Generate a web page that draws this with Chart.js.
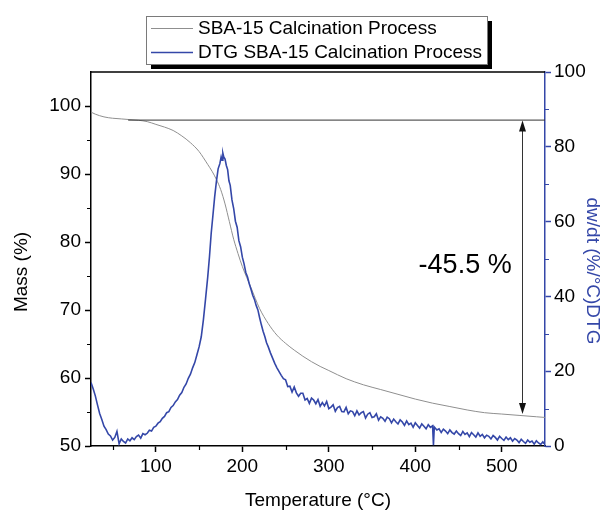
<!DOCTYPE html>
<html>
<head>
<meta charset="utf-8">
<script src="https://cdn.jsdelivr.net/npm/chart.js@4.4.1/dist/chart.umd.min.js"></script>
<style>
    html, body { margin: 0; padding: 0; background: #ffffff; }
    #chart-tga-container { width: 607px; height: 513px; }
</style>
</head>
<body>
<div id="chart-tga-container"><canvas id="chart-tga"></canvas></div>
<script>
// --- data ------------------------------------------------------------------
const massTemp  = [25, 30, 40, 50, 60, 70, 80, 90, 100, 110,
                   120, 130, 140, 150, 160, 165, 170, 175, 180, 185,
                   190, 195, 200, 205, 210, 215, 220, 230, 240, 250,
                   260, 270, 280, 290, 300, 320, 340, 360, 380, 400,
                   420, 440, 460, 480, 500, 520, 540, 550];
const massValue = [99.1, 98.8, 98.4, 98.2, 98.1, 98.0, 97.9, 97.7, 97.3, 96.9,
                   96.4, 95.6, 94.6, 93.3, 91.4, 90.4, 89.2, 87.7, 85.6, 83.0,
                   80.4, 78.3, 76.4, 74.8, 73.3, 71.7, 70.2, 68.0, 66.3, 65.1,
                   64.1, 63.2, 62.4, 61.7, 61.1, 59.9, 59.0, 58.3, 57.6, 56.9,
                   56.3, 55.8, 55.3, 54.9, 54.7, 54.5, 54.3, 54.2];

const dtgTemp  = [25, 27.5, 30, 32.5, 35, 37.5, 40, 42.5, 45, 47.5,
                  50, 52.5, 55, 57.5, 60, 62.5, 65, 67.5, 70, 72.5,
                  75, 77.5, 80, 82.5, 85, 87.5, 90, 92.5, 95, 97.5,
                  100, 102.5, 105, 107.5, 110, 112.5, 115, 117.5, 120, 122.5,
                  125, 127.5, 130, 132.5, 135, 137.5, 140, 142.5, 145, 147.5,
                  150, 152.5, 155, 157.5, 160, 162, 164, 166, 168, 170,
                  172, 174, 175.5, 176.5, 177.5, 178.5, 180, 181.5, 183, 184.5,
                  186, 188, 190, 192, 194, 196, 198, 200, 202, 204,
                  206, 208, 210, 212, 214, 216, 218, 220, 222, 224,
                  226, 228, 230, 232.5, 235, 237.5, 240, 242.5, 245, 247.5,
                  250, 252.5, 255, 257.5, 260, 262.5, 265, 267.5, 270, 272.5,
                  275, 277.5, 280, 282.5, 285, 287.5, 290, 292.5, 295, 297.5,
                  300, 302.5, 305, 307.5, 310, 312.5, 315, 317.5, 320, 322.5,
                  325, 327.5, 330, 332.5, 335, 337.5, 340, 342.5, 345, 347.5,
                  350, 352.5, 355, 357.5, 360, 362.5, 365, 367.5, 370, 372.5,
                  375, 377.5, 380, 382.5, 385, 387.5, 390, 392.5, 395, 397.5,
                  400, 402.5, 405, 407.5, 410, 412.5, 415, 417.5, 420, 421,
                  422, 425, 427.5, 430, 432.5, 435, 437.5, 440, 442.5, 445,
                  447.5, 450, 452.5, 455, 457.5, 460, 462.5, 465, 467.5, 470,
                  472.5, 475, 477.5, 480, 482.5, 485, 487.5, 490, 492.5, 495,
                  497.5, 500, 502.5, 505, 507.5, 510, 512.5, 515, 517.5, 520,
                  522.5, 525, 527.5, 530, 532.5, 535, 537.5, 540, 542.5, 545,
                  547.5, 549];
const dtgValue = [17.0, 15.3, 13.4, 11.0, 8.7, 7.1, 5.3, 4.4, 3.2, 2.7,
                  1.6, 2.3, 3.9, 0.6, 1.9, 1.2, 0.8, 1.9, 1.4, 2.2,
                  1.7, 2.5, 2.9, 2.1, 3.3, 3.0, 3.4, 4.2, 4.0, 5.0,
                  5.3, 6.1, 6.5, 7.4, 7.9, 8.9, 9.2, 10.3, 10.8, 11.8,
                  12.4, 13.6, 14.3, 15.7, 16.6, 18.1, 19.2, 20.9, 22.3, 24.4,
                  26.5, 29.2, 33.8, 39.4, 45.2, 50.6, 56.9, 61.7, 66.6, 70.7,
                  74.1, 75.5, 77.3, 76.4, 78.3, 77.3, 76.7, 75.0, 73.9, 70.9,
                  69.7, 65.8, 63.5, 60.1, 58.5, 54.9, 53.3, 50.5, 48.7, 46.4,
                  45.2, 43.4, 41.9, 40.3, 39.2, 37.6, 36.4, 34.3, 32.4, 30.7,
                  29.3, 27.6, 26.5, 24.9, 23.5, 22.1, 20.9, 19.9, 18.9, 18.0,
                  17.7, 15.9, 16.0, 14.4, 15.8, 14.2, 13.3, 14.1, 14.1, 12.3,
                  12.7, 11.4, 12.8, 12.3, 11.3, 12.4, 10.6, 11.6, 10.7, 11.9,
                  10.0, 10.4, 11.0, 9.3, 10.3, 10.6, 9.2, 9.1, 10.3, 8.6,
                  9.4, 9.2, 8.1, 9.4, 8.3, 8.9, 9.2, 7.5, 8.5, 8.9,
                  7.6, 7.8, 8.6, 6.9, 7.8, 7.4, 6.6, 7.7, 7.3, 6.2,
                  7.2, 6.5, 5.9, 7.0, 6.4, 5.5, 6.7, 5.7, 6.1, 5.0,
                  6.2, 5.5, 4.8, 5.9, 5.3, 4.6, 5.7, 5.0, 5.4, 0.2,
                  5.1, 4.3, 4.6, 3.6, 4.5, 4.0, 3.3, 4.3, 3.6, 3.2,
                  4.0, 3.3, 2.8, 3.9, 3.1, 3.5, 2.5, 3.6, 3.0, 2.4,
                  3.5, 2.6, 3.1, 2.2, 2.9, 2.6, 1.9, 2.8, 2.3, 1.6,
                  2.6, 2.0, 1.5, 2.4, 1.7, 2.2, 1.3, 2.0, 1.6, 0.9,
                  1.8, 1.2, 0.7, 1.6, 1.0, 1.3, 0.5, 1.4, 0.8, 0.4,
                  1.1, 0.6];

const tempTicks  = [100, 200, 300, 400, 500];
const tempMinor  = [50, 150, 250, 350, 450];
const massTicks  = [50, 60, 70, 80, 90, 100];
const massMinor  = [55, 65, 75, 85, 95];
const dtgTicks   = [0, 20, 40, 60, 80, 100];
const dtgMinor   = [10, 30, 50, 70, 90];

// mass-loss marker
const stepStart  = 68;
const stepLevel  = 98.0;
const arrowTemp  = 523;
const arrowEnd   = 54.7;
const stepLabel  = '-45.5 %';
const labelMass  = 76.5;

const FONT = '"Liberation Sans", Arial, sans-serif';
const BLUE = '#3447a8';
// -------------------------------------------------------------------------------------------
function pointsOf(xs, ys)
{
    return xs.map((t, i) => ({ x: t, y: ys[i] }));
}
// -------------------------------------------------------------------------------------------
const tgaDecor = {
    id: 'tgaDecor',
    afterDatasetsDraw(chart) {
        const { ctx, scales: { x, y } } = chart;
        const xs = x.getPixelForValue(stepStart);
        const xe = x.getPixelForValue(x.max);
        const ys = y.getPixelForValue(stepLevel);
        const ax = x.getPixelForValue(arrowTemp);
        const yb = y.getPixelForValue(arrowEnd);

        ctx.save();
        ctx.strokeStyle = '#333333';
        ctx.fillStyle = '#111111';
        ctx.lineWidth = 1;
        ctx.beginPath();
        ctx.moveTo(xs, ys + 0.5);
        ctx.lineTo(xe, ys + 0.5);
        ctx.stroke();

        const cx = Math.round(ax) + 0.5;
        ctx.beginPath();
        ctx.moveTo(cx, ys + 4);
        ctx.lineTo(cx, yb - 4);
        ctx.stroke();

        ctx.beginPath();
        ctx.moveTo(cx, ys + 1);
        ctx.lineTo(cx - 3.5, ys + 12);
        ctx.lineTo(cx + 3.5, ys + 12);
        ctx.closePath();
        ctx.fill();
        ctx.beginPath();
        ctx.moveTo(cx, yb);
        ctx.lineTo(cx - 3.5, yb - 11);
        ctx.lineTo(cx + 3.5, yb - 11);
        ctx.closePath();
        ctx.fill();

        ctx.font = '27px ' + FONT;
        ctx.fillStyle = '#000000';
        ctx.textAlign = 'right';
        ctx.textBaseline = 'middle';
        ctx.fillText(stepLabel, ax - 10, y.getPixelForValue(labelMass));
        ctx.restore();
    },
    afterDraw(chart) {
        const { ctx, chartArea: area, scales: { x, y, y1 } } = chart;
        ctx.save();

        // top frame line
        ctx.strokeStyle = '#000000';
        ctx.lineWidth = 1.5;
        ctx.beginPath();
        ctx.moveTo(area.left - 1, area.top);
        ctx.lineTo(area.right, area.top);
        ctx.stroke();

        // minor ticks
        ctx.lineWidth = 1.2;
        ctx.beginPath();
        tempMinor.forEach(v => {
            const px = Math.round(x.getPixelForValue(v)) + 0.5;
            ctx.moveTo(px, area.bottom);
            ctx.lineTo(px, area.bottom + 4);
        });
        massMinor.forEach(v => {
            const py = Math.round(y.getPixelForValue(v)) + 0.5;
            ctx.moveTo(area.left, py);
            ctx.lineTo(area.left - 4, py);
        });
        ctx.stroke();
        ctx.strokeStyle = BLUE;
        ctx.beginPath();
        dtgMinor.forEach(v => {
            const py = Math.round(y1.getPixelForValue(v)) + 0.5;
            ctx.moveTo(area.right, py);
            ctx.lineTo(area.right + 4, py);
        });
        ctx.stroke();

        // axis titles
        ctx.font = '19px ' + FONT;
        ctx.textAlign = 'center';
        ctx.textBaseline = 'middle';
        ctx.fillStyle = '#000000';
        ctx.fillText('Temperature (°C)', (area.left + area.right) / 2, 501);
        ctx.save();
        ctx.translate(22, 272);
        ctx.rotate(-Math.PI / 2);
        ctx.fillText('Mass (%)', 0, 0);
        ctx.restore();
        ctx.save();
        ctx.fillStyle = BLUE;
        ctx.translate(592, 271);
        ctx.rotate(Math.PI / 2);
        ctx.fillText('dw/dt (%/°C)DTG', 0, 0);
        ctx.restore();

        // legend box with drop shadow
        const bx = 146, by = 16, bw = 341, bh = 48;
        ctx.fillStyle = '#000000';
        ctx.fillRect(bx + 5, by + 5, bw, bh);
        ctx.fillStyle = '#ffffff';
        ctx.fillRect(bx, by, bw, bh);
        ctx.strokeStyle = '#7a7a7a';
        ctx.lineWidth = 1;
        ctx.strokeRect(bx + 0.5, by + 0.5, bw, bh);

        const rows = [28.5, 52.5];
        const items = chart.data.datasets.filter(ds => ds.legendRow !== undefined);
        ctx.font = '19px ' + FONT;
        ctx.textAlign = 'left';
        items.forEach(ds => {
            const ry = rows[ds.legendRow];
            ctx.strokeStyle = ds.borderColor;
            ctx.lineWidth = ds.borderWidth;
            ctx.beginPath();
            ctx.moveTo(151, ry);
            ctx.lineTo(193, ry);
            ctx.stroke();
            ctx.fillStyle = '#000000';
            ctx.fillText(ds.label, 198, ry);
        });
        ctx.restore();
    }
};
// -------------------------------------------------------------------------------------------
function drawTgaChart()
{
    const data = {
        datasets: [{
            label: 'SBA-15 Calcination Process',
            data: pointsOf(massTemp, massValue),
            yAxisID: 'y',
            borderColor: '#8f8f8f',
            borderWidth: 1,
            pointRadius: 0,
            cubicInterpolationMode: 'monotone',
            order: 2,
            legendRow: 0
        }, {
            label: 'DTG SBA-15 Calcination Process',
            data: pointsOf(dtgTemp, dtgValue),
            yAxisID: 'y1',
            borderColor: BLUE,
            borderWidth: 1.6,
            pointRadius: 0,
            tension: 0,
            order: 1,
            legendRow: 1
        }]
    };

    const tickFont = { family: FONT, size: 19 };

    const options = {
        responsive: true,
        maintainAspectRatio: false,
        animation: false,
        devicePixelRatio: 1,
        layout: { padding: { top: 72, left: 0, right: 0, bottom: 0 } },
        plugins: {
            legend: { display: false },
            tooltip: { enabled: false }
        },
        scales: {
            x: {
                type: 'linear',
                position: 'bottom',
                min: 25,
                max: 550,
                afterBuildTicks: (scale) => { scale.ticks = tempTicks.map(v => ({ value: v })); },
                afterFit: (scale) => { scale.height = 67; },
                grid: { drawOnChartArea: false, tickLength: 6, tickWidth: 1.5, tickColor: '#000000' },
                border: { display: true, color: '#000000', width: 1.5 },
                ticks: { font: tickFont, color: '#000000', padding: 3, autoSkip: false, maxRotation: 0 }
            },
            y: {
                type: 'linear',
                position: 'left',
                min: 50,
                max: 105,
                afterBuildTicks: (scale) => { scale.ticks = massTicks.map(v => ({ value: v })); },
                afterFit: (scale) => { scale.width = 91; },
                grid: { drawOnChartArea: false, tickLength: 6, tickWidth: 1.5, tickColor: '#000000' },
                border: { display: true, color: '#000000', width: 1.5 },
                ticks: { font: tickFont, color: '#000000', padding: 4, autoSkip: false }
            },
            y1: {
                type: 'linear',
                position: 'right',
                min: 0,
                max: 100,
                afterBuildTicks: (scale) => { scale.ticks = dtgTicks.map(v => ({ value: v })); },
                afterFit: (scale) => { scale.width = 62; },
                grid: { drawOnChartArea: false, tickLength: 6, tickWidth: 1.5, tickColor: BLUE },
                border: { display: true, color: BLUE, width: 1.5 },
                ticks: { font: tickFont, color: '#000000', padding: 3, autoSkip: false }
            }
        }
    };

    new Chart('chart-tga', {
        type: 'line',
        data: data,
        options: options,
        plugins: [tgaDecor]
    });
}
// -------------------------------------------------------------------------------------------
drawTgaChart();
</script>
</body>
</html>
